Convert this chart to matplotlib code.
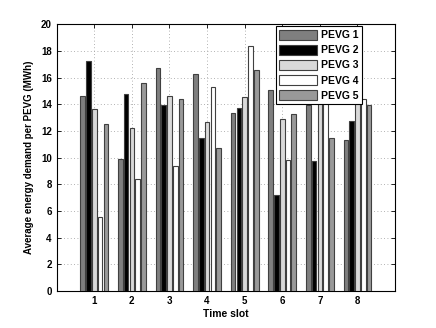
import matplotlib
matplotlib.use('Agg')
import matplotlib.pyplot as plt
import numpy as np

plt.rcParams['font.family'] = ['Liberation Sans', 'DejaVu Sans']
plt.rcParams['font.weight'] = 'bold'

# Data
time_slots = [1, 2, 3, 4, 5, 6, 7, 8]
pevg1 = [14.6, 9.87, 16.7, 16.3, 13.33, 15.1, 13.96, 11.31]
pevg2 = [17.23, 14.8, 13.93, 11.51, 13.73, 7.2, 9.74, 12.73]
pevg3 = [13.68, 12.26, 14.66, 12.71, 14.58, 12.88, 15.3, 15.0]
pevg4 = [5.52, 8.41, 9.34, 15.28, 18.4, 9.79, 17.2, 14.4]
pevg5 = [12.56, 15.63, 14.43, 10.76, 16.6, 13.26, 11.51, 13.98]
series = [pevg1, pevg2, pevg3, pevg4, pevg5]
labels = ['PEVG 1', 'PEVG 2', 'PEVG 3', 'PEVG 4', 'PEVG 5']
colors = ['#7f7f7f', '#000000', '#d9d9d9', '#ffffff', '#999999']

fig = plt.figure(figsize=(4.36, 3.28), dpi=100)
ax = fig.add_axes([0.130, 0.1128, 0.776, 0.813])

x = np.array(time_slots)
group_w = 5 / 6.5
slot = group_w / 5
bar_w = slot * 0.8
for i, (vals, lab, col) in enumerate(zip(series, labels, colors)):
    offs = -group_w / 2 + slot * (i + 0.5)
    ax.bar(x + offs, vals, bar_w, color=col, edgecolor='#404040',
           linewidth=0.8, label=lab, zorder=3)

ax.set_xlim(0, 9)
ax.set_ylim(0, 20)
ax.set_xticks(time_slots)
ax.set_yticks(np.arange(0, 21, 2))
ax.grid(True, linestyle=(0, (1, 3)), color='#999999', linewidth=0.6, zorder=0)
ax.tick_params(direction='in', top=True, right=True, labelsize=7,
               length=3, width=0.6)
for s in ax.spines.values():
    s.set_linewidth(0.8)

ax.set_xlabel('Time slot', fontsize=7.5, fontweight='bold', labelpad=2)
ax.set_ylabel('Average energy demand per PEVG (MWh)', fontsize=7,
              fontweight='bold', labelpad=5)

leg = ax.legend(loc='upper right', bbox_to_anchor=(0.903, 0.994),
                fontsize=7.5, frameon=True, fancybox=False,
                edgecolor='black', framealpha=1, handlelength=3.6,
                handleheight=1.2, borderpad=0.35, labelspacing=0.4,
                handletextpad=0.4, borderaxespad=0)
leg.get_frame().set_linewidth(0.8)
leg.set_zorder(5)

fig.savefig('out.png', dpi=100)
